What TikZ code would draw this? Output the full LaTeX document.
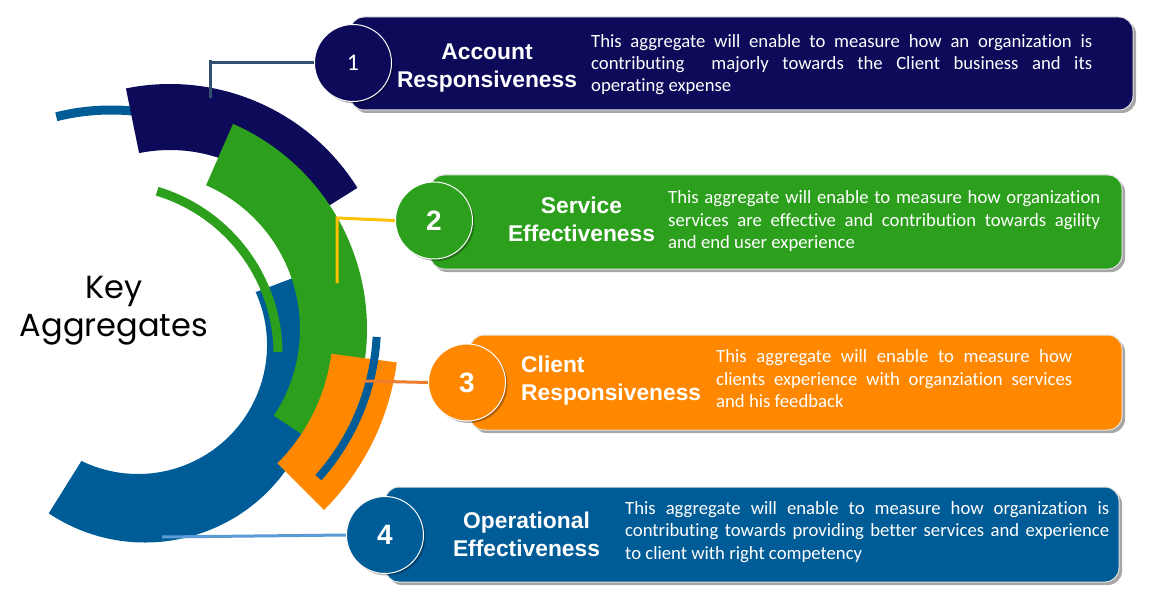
\documentclass[tikz,border=0pt]{standalone}
\usepackage{fontspec}
\setmainfont{Carlito}[Ligatures=NoCommon]
\newfontfamily\popfont{Poppins}
\newfontfamily\headfont{Liberation Sans}
\usetikzlibrary{calc,shadows}
\definecolor{cnavy}{RGB}{13,10,90}
\definecolor{cgreen}{RGB}{44,160,28}
\definecolor{corange}{RGB}{255,136,0}
\definecolor{cblue}{RGB}{0,92,151}
\definecolor{cslate}{RGB}{52,80,112}
\definecolor{cgold}{RGB}{255,192,0}
\definecolor{corline}{RGB}{237,125,49}
\definecolor{clblue}{RGB}{91,155,213}
\pgfdeclarelayer{back}
\pgfsetlayers{back,main}
\newcommand\jl[2]{\makebox[#1pt][s]{#2}}
\begin{document}
\begin{tikzpicture}[x=1pt,y=-1pt,
  box/.style={rounded corners=14pt, draw=white!80!gray, line width=1pt,
    drop shadow={shadow xshift=3pt,shadow yshift=-3pt,fill=black,opacity=0.35}},
  numc/.style={circle, minimum size=77pt, inner sep=0pt, draw=white, line width=1pt, text=white,
    drop shadow={shadow xshift=2pt,shadow yshift=-2pt,fill=black,opacity=0.3}},
  ttl/.style={text=white, font=\headfont\bfseries\fontsize{22.8}{28}\selectfont, inner sep=0pt},
  desc/.style={text=white, font=\fontsize{18.7}{22}\selectfont, inner sep=0pt, anchor=base west},
  conn/.style={line width=3pt}]
\useasboundingbox (0,0) rectangle (1165,599);

% boxes
\node[box, fill=cnavy, minimum width=783pt, minimum height=93pt] (b1) at (741.5,63.5) {};
\node[box, fill=cgreen, minimum width=692pt, minimum height=94pt] (b2) at (776,222) {};
\node[box, fill=corange, minimum width=652pt, minimum height=95pt] (b3) at (796,382.5) {};
\node[box, fill=cblue, minimum width=734pt, minimum height=95pt] (b4) at (752,534.5) {};

% number circles
\node[numc, fill=cnavy] (c1) at (353,63) {\fontsize{24}{24}\selectfont 1};
\node[numc, fill=cgreen] (c2) at (434,220.5) {\headfont\bfseries\fontsize{28}{28}\selectfont 2};
\node[numc, fill=corange] (c3) at (467,382.5) {\headfont\bfseries\fontsize{28}{28}\selectfont 3};
\node[numc, fill=cblue] (c4) at (385,535) {\headfont\bfseries\fontsize{28}{28}\selectfont 4};

% titles
\node[ttl, anchor=base] (t1a) at (487,60) {Account};
\node[ttl, anchor=base] (t1b) at (487,88) {Responsiveness};
\node[ttl, anchor=base] (t2a) at (581.5,213) {Service};
\node[ttl, anchor=base] (t2b) at (581.5,241) {Effectiveness};
\node[ttl, anchor=base west] (t3a) at (521,372) {Client};
\node[ttl, anchor=base west] (t3b) at (521,400) {Responsiveness};
\node[ttl, anchor=base] (t4a) at (526.5,528) {Operational};
\node[ttl, anchor=base] (t4b) at (526.5,556) {Effectiveness};

% descriptions
\node[desc] (d1a) at (591,48) {\jl{501}{This aggregate will enable to measure how an organization is}};
\node[desc] (d1b) at (591,70) {\jl{501}{contributing \ majorly towards the Client business and its}};
\node[desc] (d1c) at (591,92) {operating expense};
\node[desc] (d2a) at (668,204) {\jl{432}{This aggregate will enable to measure how organization}};
\node[desc] (d2b) at (668,226) {\jl{432}{services are effective and contribution towards agility}};
\node[desc] (d2c) at (668,248.5) {and end user experience};
\node[desc] (d3a) at (716,362) {\jl{356}{This aggregate will enable to measure how}};
\node[desc] (d3b) at (716,385) {\jl{356}{clients experience with organziation services}};
\node[desc] (d3c) at (716,407) {and his feedback};
\node[desc] (d4a) at (625,514) {\jl{484}{This aggregate will enable to measure how organization is}};
\node[desc] (d4b) at (625,536) {\jl{484}{contributing towards providing better services and experience}};
\node[desc] (d4c) at (625,559) {to client with right competency};

% centre label
\node[font=\popfont\fontsize{32}{32}\selectfont, anchor=base, inner sep=0pt] (kya) at (114,298) {Key};
\node[font=\popfont\fontsize{32}{32}\selectfont, anchor=base, inner sep=0pt] (kyb) at (114,336) {Aggregates};

% connector ends
\coordinate (k1a) at (210,63);
\coordinate (k1b) at (210,98);
\coordinate (k2a) at (337,218);
\coordinate (k2b) at (337,283);
\coordinate (k3a) at (364,381);
\coordinate (k4a) at (162,537);

\begin{pgfonlayer}{back}
% thin blue arc, upper left
\draw[cblue, line width=9pt] (111,336) ++(-104:226) arc[start angle=-104, end angle=-80, radius=226];
% navy ring
\fill[cnavy] (170,305) ++(-101.5:221) arc[start angle=-101.5,end angle=-32,radius=221]
  -- ($(170,305)+(-32:155)$) arc[start angle=-32,end angle=-101.5,radius=155] -- cycle;
% big blue ring
\fill[cblue] (145,369) ++(123.7:173.5) arc[start angle=123.7,end angle=-31.6,radius=173.5]
  -- ($(138,345)+(-24.2:129)$) arc[start angle=-24.2,end angle=116,radius=129] -- cycle;
% green ring
\fill[cgreen] (143,329) ++(-66.3:224) arc[start angle=-66.3,end angle=33.5,radius=224]
  -- ($(143,329)+(33.5:157)$) arc[start angle=33.5,end angle=-66.3,radius=157] -- cycle;
% thin green arc
\draw[cgreen, line width=9pt] (108,354) ++(-73.2:170) arc[start angle=-73.2,end angle=-0.7,radius=170];
% orange ring
\fill[corange] (143,329) ++(7.5:256) arc[start angle=7.5,end angle=45,radius=256]
  -- ($(143,329)+(45:190)$) arc[start angle=45,end angle=7.5,radius=190] -- cycle;
% thin blue arc, right
\draw[cblue, line width=8pt] (146,324) ++(3.2:231) arc[start angle=3.2,end angle=41.7,radius=231];
% connectors
\draw[conn, cslate] (c1.west) -- (k1a) -- (k1b);
\draw[conn, cslate] (k1a) -- ++(0,-3);
\draw[conn, cgold] (c2.west) -- (k2a) -- (k2b);
\draw[conn, corline] (c3.west) -- (k3a);
\draw[conn, clblue] (c4.west) -- (k4a);
\end{pgfonlayer}
\end{tikzpicture}
\end{document}
